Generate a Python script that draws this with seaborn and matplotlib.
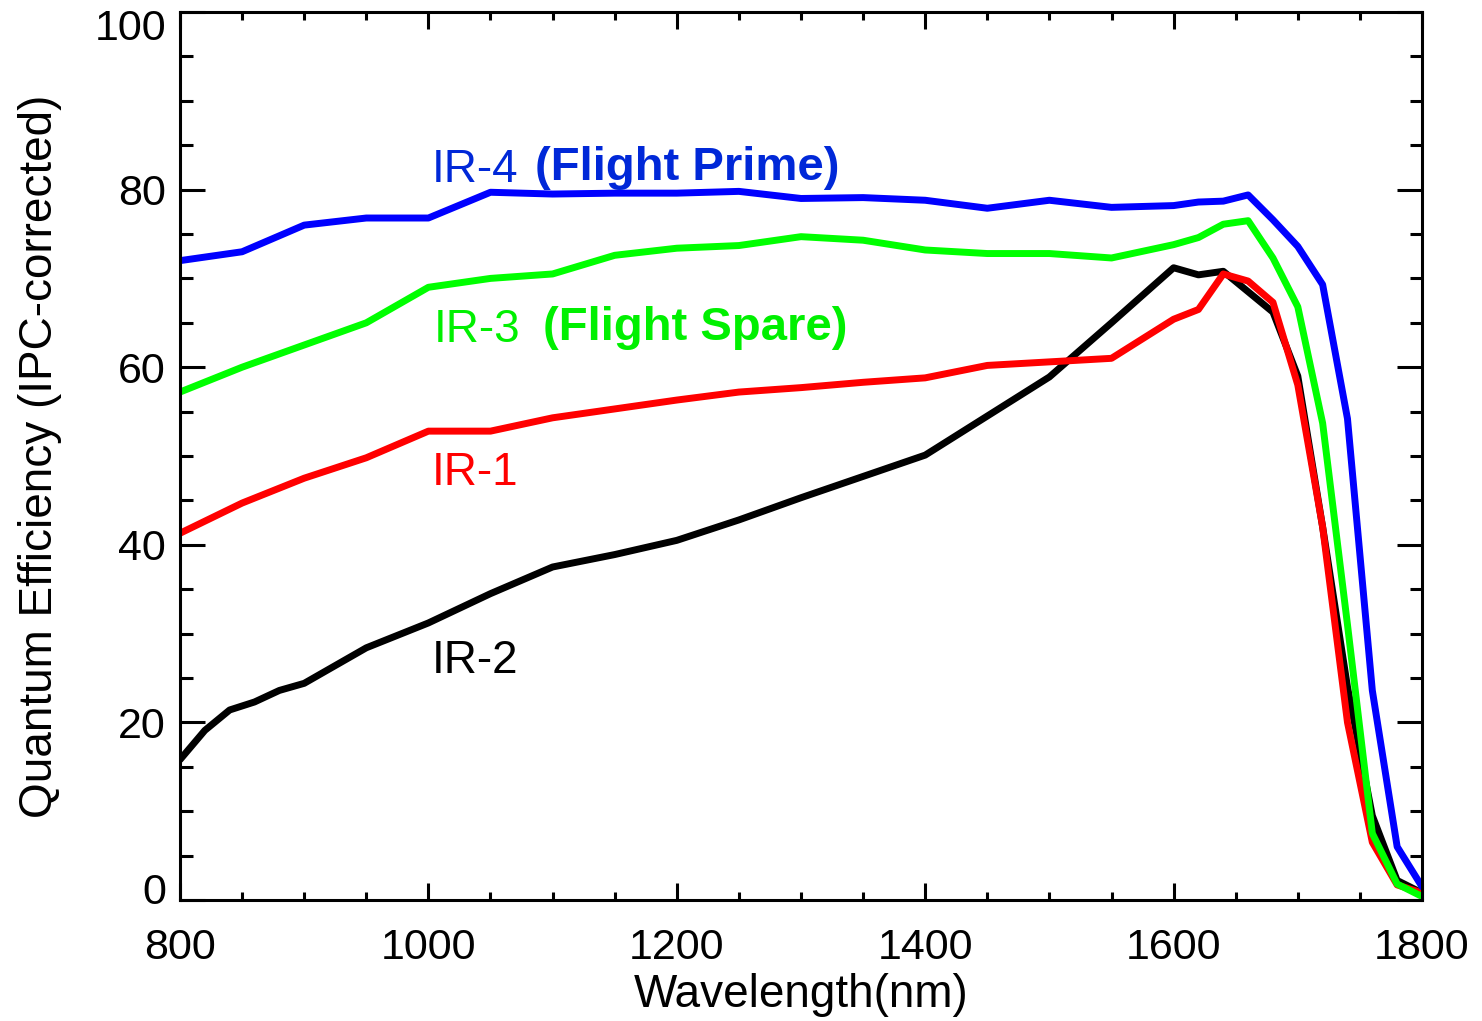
import numpy as np
import pandas as pd
import matplotlib
matplotlib.use("Agg")
import matplotlib.pyplot as plt
from matplotlib.ticker import MultipleLocator
from matplotlib.transforms import ScaledTranslation
import seaborn as sns

# Quantum efficiency curves of the four IR detectors
wl_main = [800, 850, 900, 950, 1000, 1050, 1100, 1150, 1200, 1250, 1300, 1350,
           1400, 1450, 1500, 1550, 1600, 1620, 1640, 1660, 1680, 1700, 1720,
           1740, 1760, 1780, 1800]
qe_ir4 = [72.0, 73.0, 76.0, 76.8, 76.8, 79.7, 79.5, 79.6, 79.6, 79.8, 79.0, 79.1,
          78.8, 77.9, 78.8, 78.0, 78.2, 78.6, 78.7, 79.4, 76.6, 73.6, 69.3,
          54.2, 23.6, 6.0, 1.5]
qe_ir3 = [57.2, 60.0, 62.5, 65.0, 69.0, 70.0, 70.5, 72.6, 73.4, 73.7, 74.7, 74.3,
          73.2, 72.8, 72.8, 72.3, 73.8, 74.6, 76.1, 76.5, 72.3, 66.8, 53.7,
          31.0, 7.5, 1.8, 0.4]
qe_ir1 = [41.3, 44.7, 47.5, 49.8, 52.8, 52.8, 54.3, 55.3, 56.3, 57.2, 57.7, 58.3,
          58.8, 60.2, 60.6, 61.0, 65.4, 66.5, 70.5, 69.7, 67.3, 58.0, 42.0,
          20.0, 6.5, 1.7, 0.8]
wl_ir2 = [800, 820, 840, 860, 880, 900, 950, 1000, 1050, 1100, 1150, 1200, 1250,
          1300, 1350, 1400, 1450, 1500, 1550, 1600, 1620, 1640, 1660, 1680, 1700,
          1720, 1740, 1760, 1780, 1800]
qe_ir2 = [15.8, 19.1, 21.4, 22.3, 23.6, 24.4, 28.4, 31.2, 34.5, 37.5, 38.9, 40.5,
          42.8, 45.3, 47.7, 50.1, 54.5, 58.9, 65.0, 71.2, 70.4, 70.8, 68.5, 66.2,
          59.0, 42.0, 24.0, 9.5, 2.2, 0.8]

detectors = ["IR-2", "IR-1", "IR-3", "IR-4"]
line_colors = {"IR-2": "#000000", "IR-1": "#FF0000",
               "IR-3": "#00FF00", "IR-4": "#0000FF"}

frames = [
    pd.DataFrame({"wavelength": wl_ir2, "qe": qe_ir2, "detector": "IR-2"}),
    pd.DataFrame({"wavelength": wl_main, "qe": qe_ir1, "detector": "IR-1"}),
    pd.DataFrame({"wavelength": wl_main, "qe": qe_ir3, "detector": "IR-3"}),
    pd.DataFrame({"wavelength": wl_main, "qe": qe_ir4, "detector": "IR-4"}),
]
df = pd.concat(frames, ignore_index=True)

sns.set_style("ticks")
plt.rcParams["font.family"] = ["Liberation Sans", "DejaVu Sans"]
plt.rcParams.update({"text.color": "black", "axes.labelcolor": "black",
                     "xtick.color": "black", "ytick.color": "black",
                     "axes.edgecolor": "black"})

W, H = 1482, 1021
fig = plt.figure(figsize=(W / 100, H / 100), dpi=100)
ax = fig.add_axes([180 / W, 1 - 900 / H, (1422 - 180) / W, (900 - 12) / H])

sns.lineplot(data=df, x="wavelength", y="qe", hue="detector",
             hue_order=detectors, palette=line_colors, linewidth=5.0,
             legend=False, ax=ax, sort=True, estimator=None)

ax.set_xlim(800, 1800)
ax.set_ylim(0, 100)
ax.xaxis.set_major_locator(MultipleLocator(200))
ax.xaxis.set_minor_locator(MultipleLocator(50))
ax.yaxis.set_major_locator(MultipleLocator(20))
ax.yaxis.set_minor_locator(MultipleLocator(5))

for s in ax.spines.values():
    s.set_linewidth(2.2)
    s.set_color("black")

ax.tick_params(which="both", direction="in", top=True, right=True,
               width=2.2, color="black", labelcolor="black", labelsize=31)
ax.tick_params(axis="x", which="major", length=12.5, pad=20)
ax.tick_params(axis="x", which="minor", length=6)
ax.tick_params(axis="y", which="major", length=18, pad=10)
ax.tick_params(axis="y", which="minor", length=9)

# Nudge the end labels of the y axis inward
fig.canvas.draw()
for lab in ax.get_yticklabels():
    if lab.get_text() == "0":
        lab.set_transform(lab.get_transform() + ScaledTranslation(0, 12 / 100, fig.dpi_scale_trans))
    elif lab.get_text() == "100":
        lab.set_transform(lab.get_transform() + ScaledTranslation(0, -12 / 100, fig.dpi_scale_trans))

ax.set_xlabel("Wavelength(nm)", fontsize=33, color="black")
ax.xaxis.set_label_coords(0.5, -0.082)
ax.set_ylabel("Quantum Efficiency (IPC-corrected)", fontsize=33, color="black")
ax.yaxis.set_label_coords(-0.1127, 0.5)
ax.yaxis.label.set_va("center")

# Detector annotations
ax.text(1003, 80.9, "IR-4", color="#0028D8", fontsize=33, va="baseline")
ax.text(1086, 81.1, "(Flight Prime)", color="#0028D8", fontsize=34,
        fontweight="bold", va="baseline")
ax.text(1004, 62.8, "IR-3", color="#00F000", fontsize=33, va="baseline")
ax.text(1092, 63.1, "(Flight Spare)", color="#00F000", fontsize=34,
        fontweight="bold", va="baseline")
ax.text(1003, 46.7, "IR-1", color="#FF0000", fontsize=33, va="baseline")
ax.text(1003, 25.6, "IR-2", color="#000000", fontsize=33, va="baseline")

fig.savefig("out.png", dpi=100, facecolor="white")
